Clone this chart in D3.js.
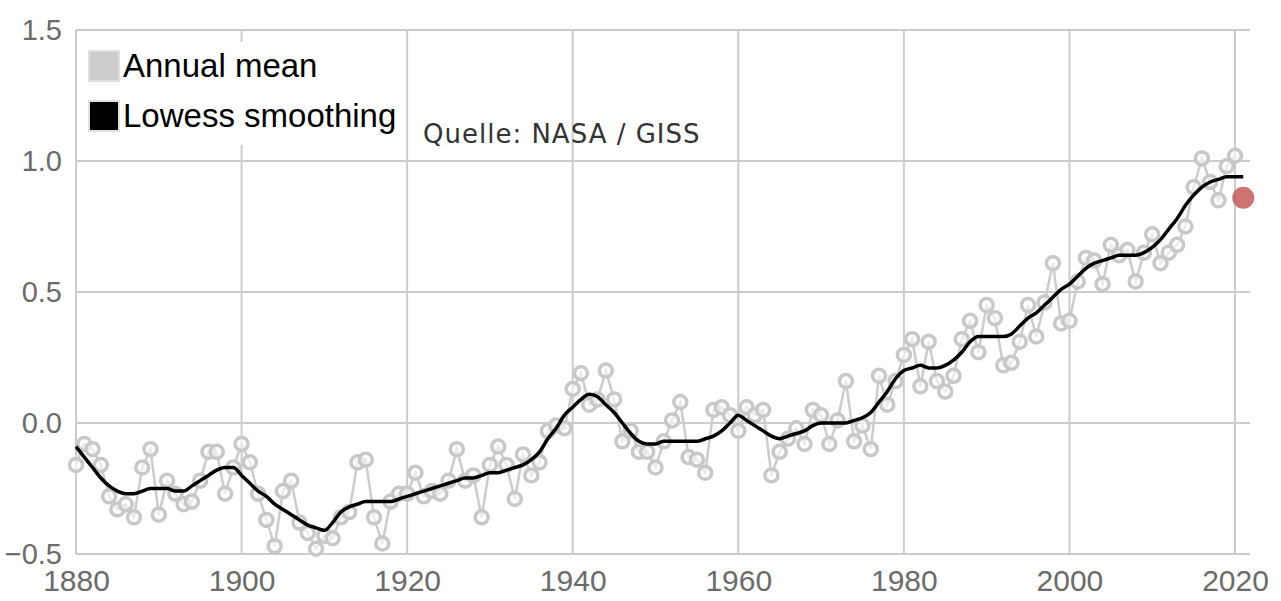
<!DOCTYPE html>
<html>
<head>
<meta charset="utf-8">
<script src="https://cdn.jsdelivr.net/npm/d3@7"></script>
<style>
  body { margin: 0; background: #fff; }
  svg { display: block; }
</style>
</head>
<body>
<svg id="chart" width="1281" height="601"></svg>
<script>
// GISTEMP annual means, 1880-2020 (2021 drawn separately as red dot)
const startYear = 1880
const annual = [
  -0.16,-0.08,-0.10,-0.16,-0.28,-0.33,-0.31,-0.36,-0.17,-0.10,
  -0.35,-0.22,-0.27,-0.31,-0.30,-0.22,-0.11,-0.11,-0.27,-0.17,
  -0.08,-0.15,-0.27,-0.37,-0.47,-0.26,-0.22,-0.38,-0.42,-0.48,
  -0.43,-0.44,-0.36,-0.34,-0.15,-0.14,-0.36,-0.46,-0.30,-0.27,
  -0.27,-0.19,-0.28,-0.26,-0.27,-0.22,-0.10,-0.22,-0.20,-0.36,
  -0.16,-0.09,-0.16,-0.29,-0.12,-0.20,-0.15,-0.03,-0.01,-0.02,
  0.13,0.19,0.07,0.09,0.20,0.09,-0.07,-0.03,-0.11,-0.11,
  -0.17,-0.07,0.01,0.08,-0.13,-0.14,-0.19,0.05,0.06,0.03,
  -0.03,0.06,0.03,0.05,-0.20,-0.11,-0.06,-0.02,-0.08,0.05,
  0.03,-0.08,0.01,0.16,-0.07,-0.01,-0.10,0.18,0.07,0.16,
  0.26,0.32,0.14,0.31,0.16,0.12,0.18,0.32,0.39,0.27,
  0.45,0.40,0.22,0.23,0.31,0.45,0.33,0.46,0.61,0.38,
  0.39,0.54,0.63,0.62,0.53,0.68,0.64,0.66,0.54,0.65,
  0.72,0.61,0.65,0.68,0.75,0.90,1.01,0.92,0.85,0.98,
  1.02
]
const latest = { year: 2021, value: 0.86 }

// Lowess smoothing, 1880-2021
const lowess = [
  -0.09,-0.13,-0.17,-0.21,-0.24,-0.26,-0.27,-0.27,-0.26,-0.25,
  -0.25,-0.25,-0.26,-0.26,-0.24,-0.22,-0.20,-0.18,-0.17,-0.17,
  -0.20,-0.23,-0.26,-0.28,-0.31,-0.33,-0.35,-0.37,-0.39,-0.40,
  -0.41,-0.38,-0.34,-0.32,-0.31,-0.30,-0.30,-0.30,-0.30,-0.29,
  -0.28,-0.27,-0.26,-0.25,-0.24,-0.23,-0.22,-0.21,-0.21,-0.20,
  -0.19,-0.19,-0.18,-0.17,-0.16,-0.14,-0.11,-0.06,-0.02,0.03,
  0.06,0.09,0.11,0.10,0.07,0.04,0.00,-0.04,-0.07,-0.08,
  -0.08,-0.07,-0.07,-0.07,-0.07,-0.07,-0.06,-0.05,-0.03,0.00,
  0.03,0.01,-0.01,-0.03,-0.05,-0.06,-0.05,-0.04,-0.03,-0.01,
  0.00,0.00,0.00,0.00,0.01,0.02,0.04,0.08,0.12,0.17,
  0.20,0.21,0.22,0.21,0.21,0.22,0.24,0.27,0.31,0.33,
  0.33,0.33,0.33,0.34,0.37,0.40,0.42,0.45,0.48,0.51,
  0.53,0.56,0.59,0.61,0.62,0.63,0.64,0.64,0.64,0.65,
  0.67,0.70,0.74,0.78,0.83,0.87,0.90,0.92,0.93,0.94,
  0.94,0.94
]

const xTicks = [1880, 1900, 1920, 1940, 1960, 1980, 2000, 2020]
const yTicks = [-0.5, 0.0, 0.5, 1.0, 1.5]
const legendItems = [
  { label: "Annual mean", colour: "#cccccc" },
  { label: "Lowess smoothing", colour: "#000000" }
]
const sourceText = "Quelle: NASA / GISS"

const svg = d3.select("#chart")
const plotLeft = 76, plotRight = 1250, plotTop = 30, plotBottom = 554

const x = d3.scaleLinear().domain([1880, 2020]).range([76, 1235])
const y = d3.scaleLinear().domain([-0.5, 1.5]).range([plotBottom, plotTop])

const annualData = annual.map((v, i) => ({ year: startYear + i, value: v }))
const lowessData = lowess.map((v, i) => ({ year: startYear + i, value: v }))

// grid
const grid = svg.append("g").attr("stroke", "#cccccc").attr("stroke-width", 2)
grid.selectAll(".h").data(yTicks).join("line").attr("class", "h")
  .attr("x1", plotLeft).attr("x2", plotRight)
  .attr("y1", d => y(d)).attr("y2", d => y(d))
grid.selectAll(".v").data(xTicks).join("line").attr("class", "v")
  .attr("x1", d => x(d)).attr("x2", d => x(d))
  .attr("y1", plotTop).attr("y2", plotBottom)

// axis labels
const yAxis = svg.append("g")
  .attr("transform", `translate(${plotLeft},0)`)
  .call(d3.axisLeft(y).tickValues(yTicks).tickFormat(d3.format(".1f")).tickSize(0).tickPadding(14))
yAxis.select(".domain").remove()
yAxis.selectAll("text")
  .attr("font-family", "Liberation Sans, Arial, sans-serif")
  .attr("font-size", 29).attr("fill", "#6b6b6b")

const xAxis = svg.append("g")
  .attr("transform", `translate(0,${plotBottom})`)
  .call(d3.axisBottom(x).tickValues(xTicks).tickFormat(d3.format("d")).tickSize(0).tickPadding(16))
xAxis.select(".domain").remove()
xAxis.selectAll("text")
  .attr("font-family", "Liberation Sans, Arial, sans-serif")
  .attr("font-size", 30).attr("fill", "#6b6b6b")

// annual mean line + circles
svg.append("path")
  .datum(annualData)
  .attr("d", d3.line().x(d => x(d.year)).y(d => y(d.value)))
  .attr("fill", "none")
  .attr("stroke", "#cccccc")
  .attr("stroke-width", 2.5)

svg.append("g").selectAll("circle")
  .data(annualData)
  .join("circle")
  .attr("cx", d => x(d.year))
  .attr("cy", d => y(d.value))
  .attr("r", 6.5)
  .attr("fill", "#ffffff")
  .attr("fill-opacity", 0.6)
  .attr("stroke", "#c8c8c8")
  .attr("stroke-width", 3.5)

// lowess line
const smooth = d3.line().x(d => x(d.year)).y(d => y(d.value)).curve(d3.curveMonotoneX)
svg.append("path")
  .datum(lowessData)
  .attr("d", smooth)
  .attr("fill", "none")
  .attr("stroke", "#000")
  .attr("stroke-width", 3.5)
  .attr("stroke-linejoin", "round")

// latest year
svg.append("circle")
  .attr("cx", x(latest.year))
  .attr("cy", y(latest.value))
  .attr("r", 11)
  .attr("fill", "#c65a5a")
  .attr("fill-opacity", 0.85)

// legend
const legend = svg.append("g")
legend.append("rect")
  .attr("x", 77).attr("y", 42).attr("width", 326).attr("height", 103)
  .attr("fill", "#fff")
legend.selectAll("g").data(legendItems).join("g")
  .attr("transform", (d, i) => `translate(88,${50 + i * 50})`)
  .each(function(d) {
    const g = d3.select(this)
    g.append("rect")
      .attr("x", 1).attr("y", 1).attr("width", 30).attr("height", 30)
      .attr("fill", d.colour).attr("stroke", "#e0e0e0").attr("stroke-width", 2)
    g.append("text")
      .attr("x", 35).attr("y", 27)
      .attr("font-family", "Liberation Sans, Arial, sans-serif")
      .attr("font-size", 33).attr("fill", "#000")
      .text(d.label)
  })

svg.append("text")
  .attr("x", 423).attr("y", 143)
  .attr("font-family", "DejaVu Sans, Verdana, sans-serif")
  .attr("font-size", 26).attr("fill", "#333")
  .attr("letter-spacing", 1)
  .text(sourceText)
</script>
</body>
</html>
